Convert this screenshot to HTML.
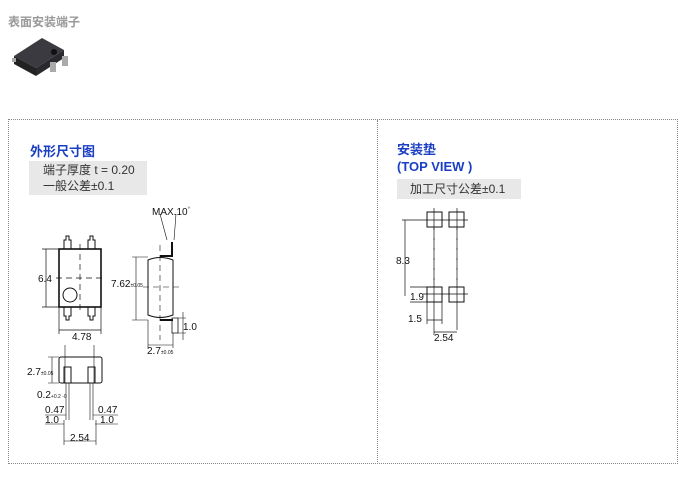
<!DOCTYPE html>
<html><head><meta charset="utf-8"><style>
body{margin:0;width:700px;height:477px;background:#fff;position:relative;overflow:hidden;font-family:"Liberation Sans","Noto Sans CJK SC",sans-serif}
.a{position:absolute;white-space:nowrap}
.t{color:#1a3fc4;font-weight:bold;font-size:13px}
.g{background:#e8e8e8;color:#333;font-size:12px;line-height:16px}
</style></head><body>
<div class="a" style="left:8px;top:13px;font-size:12px;font-weight:bold;color:#999">表面安装端子</div>
<svg class="a" style="left:12px;top:36px" width="60" height="48">
<polygon points="2,20 30,2 52,14 24,32" fill="#3a3a40"/>
<polygon points="2,20 24,32 24,40 2,28" fill="#222"/>
<polygon points="24,32 52,14 52,22 24,40" fill="#2a2a2e"/>
<circle cx="42" cy="16" r="3" fill="#111"/>
<rect x="38" y="26" width="6" height="10" fill="#aaa"/><rect x="50" y="20" width="6" height="10" fill="#aaa"/>
<rect x="0" y="22" width="4" height="4" fill="#aaa"/>
</svg>
<div class="a" style="left:8px;top:119px;width:670px;height:345px;border:1px dotted #888;box-sizing:border-box"></div>
<div class="a" style="left:377px;top:120px;height:344px;border-left:1px dotted #888"></div>
<div class="a t" style="left:30px;top:141px">外形尺寸图</div>
<div class="a g" style="left:29px;top:161px;width:118px;height:34px;padding-left:14px;box-sizing:border-box;padding-top:1px">端子厚度 t = 0.20<br>一般公差±0.1</div>
<div class="a t" style="left:397px;top:141px;line-height:17px">安装垫<br>(TOP VIEW )</div>
<div class="a g" style="left:397px;top:179px;width:124px;height:20px;padding-left:13px;box-sizing:border-box;padding-top:2px">加工尺寸公差±0.1</div>
<svg class="a" style="left:0;top:0" width="700" height="477" font-family="Liberation Sans,sans-serif" font-size="10" fill="#111">
<g stroke="#111" fill="none" stroke-width="1">
<rect x="59" y="249" width="42" height="58" stroke-width="1.6"/>
<path d="M64,249 V240 H66 V236 H69 V240 H71 V249 M88,249 V240 H90 V236 H93 V240 H95 V249"/>
<path d="M64,307 V316 H66 V320 H69 V316 H71 V307 M88,307 V316 H90 V320 H93 V316 H95 V307"/>
<circle cx="70" cy="295" r="7"/>
<path d="M56,278 H104 M80,244 V312" stroke-dasharray="6,4" stroke-width="0.7"/>
<path d="M46,249 V307 M42,249 H59 M42,307 H59 M59,307 V334 M101,307 V334 M59,330 H101" stroke-width="0.7"/>
<path d="M148,260 Q160,255 173,260 V315 Q160,320 148,315 Z"/>
<path d="M160,256 H172 V242" stroke-width="2"/>
<path d="M167,240 L160,214 M174,240 L176,214" stroke-width="0.6"/>
<path d="M160,320 H173" stroke-width="2"/>
<path d="M172,318 V333 H178 V318 Z" stroke-width="0.8"/>
<path d="M160,245 V340 M143,287 H182" stroke-dasharray="6,4" stroke-width="0.6"/>
<path d="M136,257 V320 M132,257 H148 M132,320 H148 M148,320 V348 M173,333 V348 M148,345 H173 M178,318 H186 M178,333 H186 M183,312 V340" stroke-width="0.6"/>
<rect x="59" y="357" width="43" height="26" rx="2"/>
<path d="M64,383 V367 H71 V383 M88,383 V367 H95 V383"/>
<path d="M66,383 V420 M69,383 V420 M90,383 V420 M93,383 V420 M65,345 V383 M94,345 V383" stroke-width="0.6"/>
<path d="M52,357 V383 M48,357 H59 M48,383 H59 M45,415 H66 M93,415 H118 M45,424 H64 M95,424 H118 M64,420 V445 M96,420 V445 M64,441 H96" stroke-width="0.6"/>
<rect x="427" y="212" width="15" height="15"/><rect x="449" y="212" width="15" height="15"/>
<rect x="427" y="287" width="15" height="15"/><rect x="449" y="287" width="15" height="15"/>
<path d="M402,220 H468 M423,294 H468 M434,208 V330 M457,208 V330" stroke-width="0.7"/>
<path d="M434,228 V287 M457,228 V287" stroke-dasharray="2,8" stroke-width="0.7"/>
<path d="M405,220 V296 M410,287 H427 M410,302 H427 M427,302 V324 M442,302 V324 M427,320 H442 M434,330 V335 M434,332 H457" stroke-width="0.7"/>
</g>
<text x="38" y="282">6.4</text>
<text x="72" y="340">4.78</text>
<text x="111" y="287">7.62<tspan font-size="5">±0.05</tspan></text>
<text x="152" y="215">MAX.10<tspan font-size="6" dy="-4">°</tspan></text>
<text x="183" y="330">1.0</text>
<text x="147" y="354">2.7<tspan font-size="5">±0.05</tspan></text>
<text x="27" y="375">2.7<tspan font-size="5">±0.05</tspan></text>
<text x="37" y="398">0.2<tspan font-size="5">+0.2 -0</tspan></text>
<text x="45" y="413">0.47</text><text x="45" y="423">1.0</text>
<text x="98" y="413">0.47</text><text x="100" y="423">1.0</text>
<text x="70" y="441">2.54</text>
<text x="396" y="264">8.3</text>
<text x="410" y="300">1.9</text>
<text x="408" y="322">1.5</text>
<text x="434" y="341">2.54</text>
</svg>
</body></html>
